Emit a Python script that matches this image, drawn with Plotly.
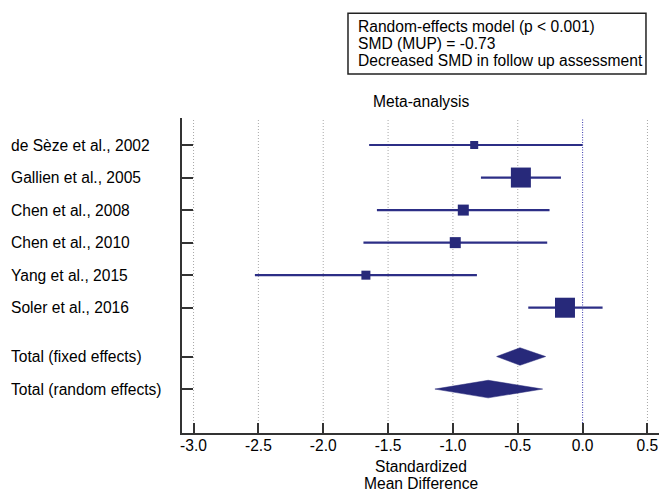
import plotly.graph_objects as go

studies = ["de Sèze et al., 2002", "Gallien et al., 2005", "Chen et al., 2008",
           "Chen et al., 2010", "Yang et al., 2015", "Soler et al., 2016"]
smd = [-0.836, -0.476, -0.92, -0.982, -1.671, -0.136]
ci_low = [-1.646, -0.784, -1.586, -1.69, -2.527, -0.419]
ci_high = [0.0, -0.167, -0.255, -0.273, -0.815, 0.154]
weights = [8, 20, 11, 11, 9, 20]  # marker size (px)

pooled_labels = ["Total (fixed effects)", "Total (random effects)"]
pooled_smd = [-0.483, -0.728]
pooled_low = [-0.663, -1.139]
pooled_high = [-0.285, -0.308]

study_rows = [0, 1, 2, 3, 4, 5]
pooled_rows = [6.5, 7.5]

xticks = [-3.0, -2.5, -2.0, -1.5, -1.0, -0.5, 0.0, 0.5]

info_lines = ["Random-effects model (p &lt; 0.001)", "SMD (MUP) = -0.73",
              "Decreased SMD in follow up assessment"]
axis_title_lines = ["Standardized", "Mean Difference"]

NAVY = "#27297a"
LINE = "#2c2e86"
FONT = "Liberation Sans, Arial, sans-serif"
FS = 15.6

fig = go.Figure()

# gridlines (dotted) except zero
for xv in xticks:
    if xv == 0.0:
        continue
    fig.add_vline(x=xv, line=dict(color="#a8a8a8", width=1, dash="1px,2px"), layer="below")
fig.add_vline(x=0.0, line=dict(color="#3a3ab0", width=1, dash="1px,1.5px"), layer="below")

# CI lines
for i in range(len(studies)):
    fig.add_trace(go.Scatter(
        x=[ci_low[i], ci_high[i]], y=[study_rows[i], study_rows[i]],
        mode="lines", line=dict(color=LINE, width=2.2), showlegend=False,
        hoverinfo="skip"))

# squares
fig.add_trace(go.Scatter(
    x=smd, y=study_rows, mode="markers",
    marker=dict(symbol="square", size=weights, color=NAVY, opacity=1, line=dict(width=0)),
    showlegend=False, text=studies))

# diamonds
half_h = 0.27
for i in range(len(pooled_labels)):
    r = pooled_rows[i]
    fig.add_trace(go.Scatter(
        x=[pooled_low[i], pooled_smd[i], pooled_high[i], pooled_smd[i], pooled_low[i]],
        y=[r, r - half_h, r, r + half_h, r],
        mode="lines", fill="toself", fillcolor=NAVY,
        line=dict(color=NAVY, width=0.5), showlegend=False, hoverinfo="skip"))

# row labels
for lab, r in zip(studies + pooled_labels, study_rows + pooled_rows):
    fig.add_annotation(text=lab, x=-0.3625, xref="paper", y=r, yref="y",
                       xanchor="left", yanchor="middle", showarrow=False,
                       font=dict(family=FONT, size=FS, color="black"))

# title
fig.add_annotation(text="Meta-analysis", x=0.5, xref="paper", y=1.052, yref="paper",
                   xanchor="center", yanchor="middle", showarrow=False,
                   font=dict(family=FONT, size=FS, color="black"))

# x-axis title (two lines)
for txt, yp in zip(axis_title_lines, [-0.107, -0.161]):
    fig.add_annotation(text=txt, x=0.5, xref="paper", y=yp, yref="paper",
                       xanchor="center", yanchor="middle", showarrow=False,
                       font=dict(family=FONT, size=FS, color="black"))

# info box
fig.add_shape(type="rect", xref="paper", yref="paper", x0=0.348, x1=0.9727,
              y0=1.1398, y1=1.3327, line=dict(color="#222", width=1.5),
              fillcolor="white")
for txt, yp in zip(info_lines, [1.2911, 1.2361, 1.1827]):
    fig.add_annotation(text=txt, x=0.3649, xref="paper", y=yp, yref="paper",
                       xanchor="left", yanchor="middle", showarrow=False,
                       font=dict(family=FONT, size=FS, color="black"))

fig.update_layout(
    width=661, height=492,
    margin=dict(l=182, r=2, t=118, b=59),
    paper_bgcolor="white", plot_bgcolor="white",
    font=dict(family=FONT, size=FS, color="black"),
    xaxis=dict(range=[-3.089, 0.589], tickvals=xticks,
               ticktext=[f"{v:.1f}" for v in xticks], automargin=False,
               showgrid=False, zeroline=False, showline=True, linecolor="#333",
               linewidth=2, ticks="inside", ticklen=10, tickwidth=2, tickcolor="#333",
               ticklabelstandoff=-3,
               tickfont=dict(family=FONT, size=FS, color="black")),
    yaxis=dict(range=[8.85, -0.83], tickvals=study_rows + pooled_rows, automargin=False,
               showticklabels=False, showgrid=False, zeroline=False, showline=True,
               linecolor="#333", linewidth=2, ticks="inside", ticklen=11, tickwidth=2,
               tickcolor="#333"),
)

fig.write_html("out.html", config={"displayModeBar": False},
               post_script="document.body.style.margin='0';document.body.style.overflow='hidden';")
